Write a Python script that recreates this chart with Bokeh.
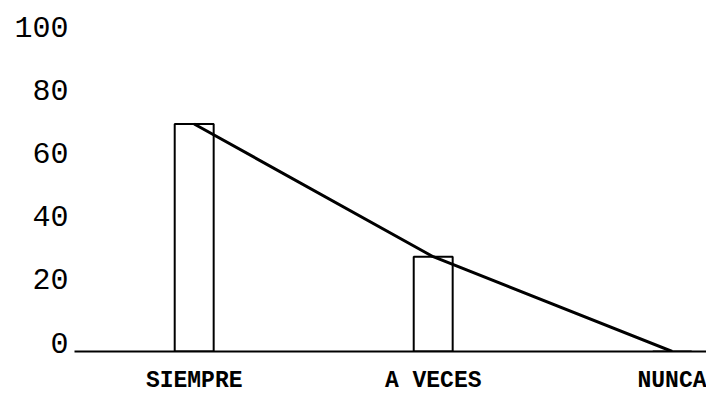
from bokeh.plotting import figure
from bokeh.models import Range1d, LinearAxis, FixedTicker, ColumnDataSource
from bokeh.embed import file_html
from bokeh.resources import INLINE

categories = ["SIEMPRE", "A VECES", "NUNCA"]
values = [72, 30, 0]
y_ticks = [0, 20, 40, 60, 80, 100]

idx = list(range(len(categories)))
src = ColumnDataSource(dict(x=idx, top=values))

y_end = 107.9
label_shift = 2.8

p = figure(width=706, height=396, output_backend="svg", toolbar_location=None,
           x_range=Range1d(-0.5008, 2.1435), y_range=Range1d(0, y_end),
           y_axis_location=None, x_axis_location="below",
           min_border_left=74, min_border_right=0, min_border_top=10,
           min_border_bottom=0)
p.outline_line_color = None
p.xgrid.visible = False
p.ygrid.visible = False
p.background_fill_color = "white"

p.vbar(x="x", top="top", bottom=0, width=0.163, source=src,
       fill_color="white", line_color="black", line_width=2)
p.line(x="x", y="top", source=src, line_color="black", line_width=3)

xa = p.xaxis[0]
xa.ticker = FixedTicker(ticks=idx)
xa.major_label_overrides = {i: c for i, c in zip(idx, categories)}
xa.axis_line_color = "black"
xa.axis_line_width = 2
xa.major_tick_line_color = None
xa.minor_tick_line_color = None
xa.major_tick_out = 0
xa.major_tick_in = 0
xa.major_label_standoff = 16
xa.major_label_text_font = "Liberation Mono"
xa.major_label_text_font_style = "bold"
xa.major_label_text_font_size = "23px"
xa.major_label_text_line_height = 1.0
xa.major_label_text_color = "black"

p.extra_y_ranges = {"lab": Range1d(-label_shift, y_end - label_shift)}
ya = LinearAxis(y_range_name="lab", ticker=FixedTicker(ticks=y_ticks))
ya.axis_line_color = None
ya.major_tick_line_color = None
ya.minor_tick_line_color = None
ya.major_tick_out = 0
ya.major_tick_in = 0
ya.major_label_standoff = 6
ya.major_label_text_font = "Liberation Mono"
ya.major_label_text_font_size = "30px"
ya.major_label_text_color = "black"
p.add_layout(ya, "left")

open("out.html", "w").write(file_html(p, INLINE))
